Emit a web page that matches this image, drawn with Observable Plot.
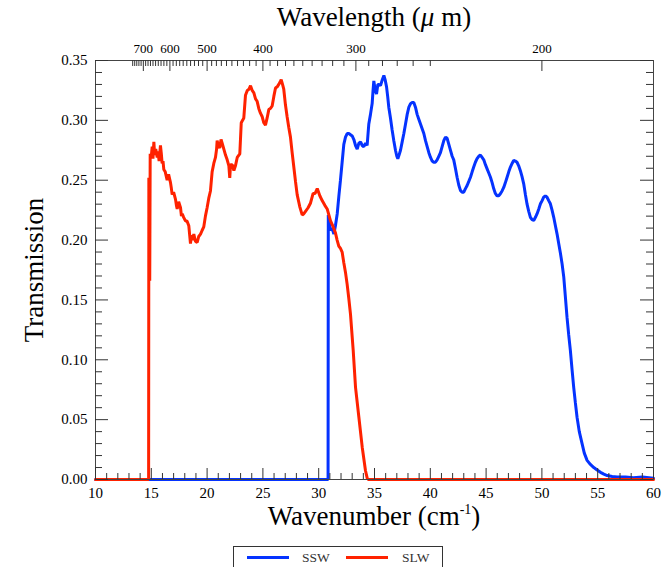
<!DOCTYPE html>
<html><head><meta charset="utf-8">
<script src="https://cdn.jsdelivr.net/npm/d3@7"></script>
<script src="https://cdn.jsdelivr.net/npm/@observablehq/plot@0.6"></script>
<style>
body{margin:0;background:#fff;font-family:"Liberation Serif",serif;}
#wrap{position:relative;width:669px;height:567px;overflow:hidden;background:#fff}
#chart{position:absolute;left:0;top:0}
.title{position:absolute;color:#000;white-space:nowrap;font-size:27px;line-height:1;font-family:"Liberation Serif",serif}
#ttop{left:374px;top:4px;transform:translateX(-50%)}
#tbottom{left:374px;top:503px;transform:translateX(-50%)}
#tbottom sup{font-size:14px;vertical-align:11px;line-height:0}
#tleft{left:34px;top:270px;transform:translate(-50%,-50%) rotate(-90deg)}
#legend{position:absolute;left:233px;top:546px;width:210px;height:30px;border:1px solid #333;box-sizing:border-box;font-size:13.5px;font-family:"Liberation Serif",serif}
#legend .sw{position:absolute;top:9px;width:42px;height:3px}
#legend .lb{position:absolute;top:3px;color:#333}
</style></head><body>
<div id="wrap">
  <div id="chart"></div>
  <div class="title" id="ttop">Wavelength (<i>μ</i> m)</div>
  <div class="title" id="tbottom">Wavenumber (cm<sup>-1</sup>)</div>
  <div class="title" id="tleft">Transmission</div>
  <div id="legend"></div>
</div>
<script>
// ---- data ----
const seriesNames = ["SSW", "SLW"];
const seriesColors = ["#0533ff", "#ff2200"];

const sswX = [10,30.84,30.86,30.95,31.06,31.2,31.36,31.5,31.66,31.8,31.95,32.1,32.25,32.4,32.55,32.7,32.85,33.0,33.15,33.3,33.45,33.6,33.75,33.9,34.04,34.2,34.34,34.49,34.64,34.79,34.87,34.94,35.05,35.18,35.3,35.39,35.54,35.7,35.84,35.95,36.08,36.18,36.28,36.43,36.58,36.73,36.88,37.0,37.09,37.2,37.33,37.48,37.63,37.78,37.93,38.08,38.23,38.38,38.52,38.67,38.82,38.97,39.12,39.27,39.42,39.57,39.72,39.87,40.02,40.17,40.31,40.46,40.61,40.76,40.91,41.06,41.21,41.36,41.51,41.66,41.81,41.96,42.1,42.25,42.4,42.55,42.7,42.85,43.0,43.15,43.3,43.45,43.6,43.75,43.89,44.04,44.19,44.34,44.49,44.64,44.79,44.94,45.09,45.24,45.39,45.54,45.68,45.83,45.98,46.13,46.28,46.43,46.58,46.73,46.88,47.03,47.18,47.33,47.47,47.62,47.77,47.92,48.07,48.22,48.37,48.52,48.67,48.82,48.97,49.12,49.27,49.42,49.57,49.72,49.87,50.02,50.16,50.31,50.46,50.61,50.76,50.91,51.06,51.21,51.36,51.51,51.66,51.81,51.96,52.1,52.25,52.4,52.55,52.7,52.85,53.0,53.15,53.35,53.6,53.8,54.05,54.3,54.65,54.95,55.25,55.55,55.85,56.3,56.74,57.5,58.2,59,60];
const sswY = [0,0,0.221,0.214,0.208,0.210,0.205,0.212,0.222,0.236,0.250,0.265,0.280,0.286,0.289,0.289,0.288,0.287,0.284,0.279,0.276,0.281,0.282,0.279,0.278,0.281,0.279,0.297,0.305,0.314,0.325,0.333,0.326,0.322,0.330,0.330,0.329,0.334,0.3375,0.334,0.328,0.320,0.311,0.302,0.292,0.283,0.275,0.270,0.268,0.271,0.275,0.282,0.289,0.297,0.305,0.311,0.314,0.315,0.315,0.311,0.305,0.301,0.297,0.293,0.289,0.283,0.278,0.273,0.269,0.266,0.265,0.265,0.267,0.270,0.273,0.278,0.283,0.286,0.285,0.280,0.275,0.270,0.267,0.260,0.2525,0.246,0.2415,0.240,0.240,0.243,0.2456,0.249,0.2525,0.257,0.261,0.265,0.268,0.270,0.271,0.269,0.267,0.263,0.2595,0.256,0.2525,0.248,0.243,0.239,0.237,0.237,0.2387,0.241,0.244,0.248,0.2525,0.257,0.261,0.264,0.2666,0.266,0.265,0.262,0.258,0.253,0.247,0.238,0.230,0.224,0.219,0.217,0.2164,0.219,0.222,0.226,0.2303,0.233,0.2358,0.237,0.2358,0.233,0.2303,0.225,0.219,0.212,0.205,0.197,0.189,0.180,0.169,0.153,0.1356,0.121,0.1078,0.092,0.077,0.064,0.052,0.040,0.030,0.022,0.016,0.013,0.010,0.008,0.006,0.0045,0.0033,0.0025,0.002,0.002,0.0015,0.002,0.001];

const slwX = [10,14.76,14.78,14.82,14.86,14.9,15.0,15.08,15.15,15.23,15.3,15.4,15.53,15.6,15.7,15.82,15.9,15.97,16.05,16.12,16.25,16.42,16.55,16.72,16.8,16.87,17.0,17.17,17.25,17.32,17.45,17.62,17.7,17.77,17.9,18.06,18.2,18.36,18.45,18.51,18.6,18.7,18.81,18.95,19.11,19.25,19.41,19.55,19.7,19.85,20.0,20.15,20.3,20.45,20.6,20.75,20.85,20.9,21.0,21.13,21.25,21.35,21.5,21.65,21.8,21.95,22.03,22.1,22.25,22.4,22.54,22.7,22.93,23.06,23.18,23.29,23.44,23.6,23.75,23.89,24.04,24.19,24.34,24.48,24.63,24.78,24.94,25.08,25.23,25.38,25.53,25.68,25.83,25.98,26.13,26.28,26.42,26.54,26.64,26.76,26.87,27.02,27.17,27.32,27.47,27.62,27.77,27.92,28.07,28.3,28.52,28.67,28.82,29.05,29.27,29.5,29.68,29.87,30.1,30.31,30.55,30.76,31.06,31.3,31.5,31.65,31.8,31.95,32.1,32.25,32.4,32.55,32.7,32.85,33.09,33.3,33.6,33.9,34.19,34.35,34.45,60];
const slwY = [0,0,0.252,0.20,0.166,0.272,0.270,0.278,0.268,0.282,0.271,0.276,0.269,0.274,0.266,0.279,0.272,0.264,0.266,0.259,0.257,0.250,0.255,0.248,0.243,0.238,0.240,0.234,0.229,0.226,0.232,0.227,0.220,0.222,0.219,0.216,0.216,0.212,0.203,0.197,0.204,0.200,0.205,0.199,0.198,0.203,0.205,0.208,0.211,0.220,0.227,0.235,0.241,0.257,0.264,0.269,0.276,0.283,0.279,0.277,0.284,0.281,0.276,0.271,0.267,0.262,0.252,0.263,0.263,0.258,0.262,0.269,0.272,0.298,0.300,0.302,0.321,0.325,0.326,0.329,0.325,0.323,0.318,0.316,0.310,0.306,0.303,0.298,0.296,0.302,0.309,0.310,0.312,0.320,0.327,0.328,0.330,0.332,0.334,0.330,0.326,0.313,0.303,0.294,0.286,0.273,0.261,0.249,0.238,0.228,0.221,0.222,0.224,0.227,0.231,0.239,0.239,0.243,0.237,0.233,0.229,0.226,0.216,0.211,0.206,0.200,0.195,0.193,0.190,0.181,0.173,0.163,0.151,0.138,0.108,0.077,0.052,0.027,0.0075,0.001,0,0];

const xMajorTicks = [10,15,20,25,30,35,40,45,50,55,60];
const xMinorTicks = d3.range(10,61,1).filter(v => v % 5 !== 0);
const yMajorTicks = [0,0.05,0.10,0.15,0.20,0.25,0.30,0.35];
const yMinorTicks = d3.range(0,36,1).filter(v => v % 5 !== 0).map(v => v/100);
const topMajorWavelengths = [700,600,500,400,300,200];
const topMinorWavelengths = d3.range(250,751,10).filter(v => v % 100 !== 0);

// ---- layout ----
const W = 669, Hsvg = 545, mL = 95, mR = 16, mT = 60, mB = 66;
const fw = W - mL - mR, fh = Hsvg - mT - mB;

const ssw = sswX.map((x,i) => ({x, y: sswY[i]}));
const slw = slwX.map((x,i) => ({x, y: slwY[i]}));
const tickColor = "#333";

const chart = Plot.plot({
  width: W, height: Hsvg,
  marginLeft: mL, marginRight: mR, marginTop: mT, marginBottom: mB,
  style: {fontFamily: "Liberation Serif, serif", background: "transparent", color: "#000"},
  x: {domain: [10,60], axis: null},
  y: {domain: [0,0.35], axis: null},
  marks: [
    Plot.line(ssw, {x:"x", y:"y", stroke: seriesColors[0], strokeWidth: 3, strokeLinejoin:"miter"}),
    Plot.line(slw, {x:"x", y:"y", stroke: seriesColors[1], strokeWidth: 3, strokeLinejoin:"miter"}),
    Plot.frame({stroke: "#444"}),
    // bottom ticks (inward)
    Plot.tickX(xMajorTicks, {x: d=>d, insetTop: fh-11, stroke: tickColor}),
    Plot.tickX(xMinorTicks, {x: d=>d, insetTop: fh-6, stroke: tickColor}),
    // top ticks (wavelength)
    Plot.tickX(topMajorWavelengths, {x: l=>1e4/l, insetBottom: fh-11, stroke: tickColor}),
    Plot.tickX(topMinorWavelengths, {x: l=>1e4/l, insetBottom: fh-6, stroke: tickColor}),
    // left ticks
    Plot.tickY(yMajorTicks, {y: d=>d, insetRight: fw-13, stroke: tickColor}),
    Plot.tickY(yMinorTicks, {y: d=>d, insetRight: fw-7, stroke: tickColor}),
    // right ticks
    Plot.tickY(yMajorTicks, {y: d=>d, insetLeft: fw-13, stroke: tickColor}),
    Plot.tickY(yMinorTicks, {y: d=>d, insetLeft: fw-7, stroke: tickColor}),
    // labels
    Plot.axisX({anchor:"bottom", ticks: xMajorTicks, tickSize: 0, tickPadding: 8, fontSize: 15, label: null, tickFormat: d=>String(d)}),
    Plot.axisY({anchor:"left", ticks: yMajorTicks, tickSize: 0, tickPadding: 8, fontSize: 15, label: null, tickFormat: d3.format(".2f")}),
    Plot.axisX({anchor:"top", ticks: topMajorWavelengths.map(l=>1e4/l), tickSize: 0, tickPadding: 8, fontSize: 13, label: null, tickFormat: d=>String(Math.round(1e4/d))})
  ]
});
document.getElementById("chart").appendChild(chart);

// legend
const lg = document.getElementById("legend");
const pos = [[13,68],[112,168]];
seriesNames.forEach((n,i) => {
  const s = document.createElement("div"); s.className="sw";
  s.style.left = pos[i][0]+"px"; s.style.background = seriesColors[i];
  lg.appendChild(s);
  const t = document.createElement("div"); t.className="lb";
  t.style.left = pos[i][1]+"px"; t.textContent = n;
  lg.appendChild(t);
});
</script>
</body></html>
